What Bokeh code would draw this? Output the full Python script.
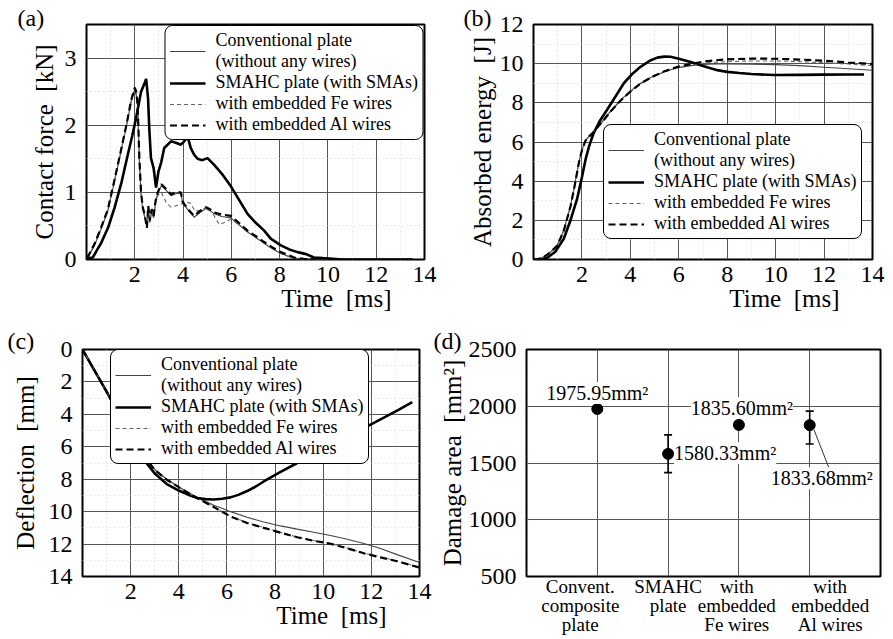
from bokeh.plotting import figure
from bokeh.layouts import column, row
from bokeh.models import (Range1d, FixedTicker, Legend, LegendItem, Label, Whisker,
                          TeeHead, ColumnDataSource, Title)
from bokeh.embed import file_html
from bokeh.resources import INLINE

FONT = "Liberation Serif"

series_names = ["Conventional plate\n(without any wires)", "SMAHC plate (with SMAs)",
                "with embedded Fe wires", "with embedded Al wires"]

# ---------------- (a) contact force [kN] vs time [ms]
a_t_conv = [0, 0.1, 0.33, 0.6, 0.88, 1.15, 1.43, 1.65, 1.85, 1.98, 2.06, 2.12, 2.19, 2.26, 2.33, 2.42,
            2.5, 2.56, 2.62, 2.7, 2.78, 2.86, 2.95, 3.1, 3.3, 3.5, 3.7, 3.91, 3.98, 4.2, 4.46, 4.7, 4.95,
            5.15, 5.29, 5.6, 5.98, 6.3, 6.67, 7.0, 7.36, 7.7, 8.05, 8.35, 8.6, 9.0, 9.5, 10.0]
a_f_conv = [0.03, 0.06, 0.21, 0.45, 0.72, 1.15, 1.61, 1.98, 2.35, 2.52, 2.45, 2.28, 1.46, 0.97, 0.75, 0.62,
            0.5, 0.78, 0.55, 0.72, 0.62, 0.85, 0.98, 1.1, 1.03, 0.95, 0.98, 0.99, 0.85, 0.74, 0.63, 0.7, 0.76,
            0.72, 0.68, 0.64, 0.62, 0.52, 0.41, 0.33, 0.24, 0.16, 0.09, 0.05, 0.02, 0.01, 0.0, 0.0]
a_t_al = [0, 0.1, 0.33, 0.6, 0.88, 1.15, 1.43, 1.65, 1.85, 2.0, 2.06, 2.12, 2.19, 2.26, 2.33, 2.42,
          2.5, 2.56, 2.62, 2.7, 2.78, 2.86, 2.95, 3.1, 3.3, 3.5, 3.7, 3.91, 3.98, 4.2, 4.46, 4.7, 4.95,
          5.15, 5.29, 5.6, 5.98, 6.3, 6.67, 7.0, 7.36, 7.7, 8.05, 8.35, 8.6, 9.0, 9.5]
a_f_al = [0.03, 0.07, 0.23, 0.47, 0.74, 1.17, 1.63, 2.0, 2.37, 2.56, 2.5, 2.3, 1.5, 1.0, 0.78, 0.65,
          0.47, 0.8, 0.58, 0.75, 0.65, 0.87, 1.0, 1.12, 1.05, 0.97, 1.0, 1.0, 0.86, 0.75, 0.65, 0.72, 0.78,
          0.74, 0.7, 0.67, 0.65, 0.55, 0.43, 0.35, 0.26, 0.18, 0.11, 0.07, 0.03, 0.01, 0.0]
a_t_fe = [0, 0.1, 0.33, 0.6, 0.88, 1.15, 1.43, 1.65, 1.85, 2.0, 2.06, 2.12, 2.19, 2.26, 2.33, 2.42,
          2.5, 2.56, 2.62, 2.7, 2.78, 2.86, 2.95, 3.1, 3.3, 3.5, 3.7, 3.91, 4.1, 4.3, 4.5, 4.8, 5.0,
          5.2, 5.5, 5.7, 5.98, 6.3, 6.67, 7.0, 7.36, 7.7, 8.05, 8.35, 8.6, 9.0]
a_f_fe = [0.03, 0.07, 0.22, 0.46, 0.73, 1.16, 1.62, 1.99, 2.36, 2.55, 2.48, 2.28, 1.48, 0.98, 0.76, 0.63,
          0.48, 0.79, 0.56, 0.73, 0.63, 0.86, 0.95, 1.0, 0.85, 0.78, 0.8, 0.82, 0.86, 0.84, 0.72, 0.74, 0.78,
          0.7, 0.52, 0.55, 0.6, 0.52, 0.42, 0.33, 0.24, 0.16, 0.09, 0.05, 0.02, 0.0]
a_t_sma = [0, 0.26, 0.45, 0.6, 0.9, 1.16, 1.45, 1.71, 1.9, 2.05, 2.26, 2.4, 2.47, 2.55, 2.6, 2.67, 2.78,
           2.88, 2.98, 3.09, 3.22, 3.5, 3.7, 3.91, 4.05, 4.19, 4.32, 4.46, 4.6, 4.8, 5.01, 5.29, 5.6, 5.98,
           6.3, 6.67, 7.0, 7.36, 7.63, 8.05, 8.4, 8.74, 9.1, 9.42, 9.8, 10.2, 10.6, 13.5]
a_f_sma = [0.02, 0.03, 0.15, 0.24, 0.48, 0.77, 1.15, 1.56, 1.85, 2.1, 2.5, 2.62, 2.69, 2.4, 1.95, 1.51, 1.36,
           1.07, 1.31, 1.44, 1.66, 1.76, 1.74, 1.71, 1.76, 1.83, 1.66, 1.56, 1.5, 1.48, 1.51, 1.41, 1.28, 1.09,
           0.9, 0.68, 0.55, 0.43, 0.31, 0.21, 0.15, 0.11, 0.08, 0.03, 0.02, 0.01, 0.0, 0.0]

# ---------------- (b) absorbed energy [J]
b_t = [0, 0.2, 0.43, 0.7, 0.98, 1.25, 1.53, 1.7, 1.87, 2.0, 2.15, 2.3, 2.43, 2.6, 2.9, 3.2, 3.6, 4.0,
       4.42, 4.9, 5.38, 5.9, 6.49, 7.0, 7.5, 8.0, 9.0, 10.0, 11.0, 12.0, 13.0, 14.0]
b_e_conv = [0, 0.02, 0.14, 0.38, 0.72, 1.5, 2.75, 3.8, 4.95, 5.6, 6.1, 6.3, 6.45, 6.7, 7.14, 7.6, 8.15, 8.6,
            9.0, 9.33, 9.58, 9.78, 9.9, 9.96, 9.98, 9.98, 9.97, 9.95, 9.9, 9.82, 9.74, 9.66]
b_e_fe = [0, 0.02, 0.13, 0.36, 0.7, 1.45, 2.7, 3.75, 4.9, 5.55, 6.05, 6.28, 6.43, 6.68, 7.1, 7.56, 8.1, 8.55,
          8.96, 9.3, 9.56, 9.77, 9.92, 10.02, 10.07, 10.1, 10.14, 10.14, 10.1, 10.05, 9.98, 9.9]
b_e_al = [0, 0.02, 0.13, 0.37, 0.71, 1.47, 2.72, 3.77, 4.92, 5.57, 6.07, 6.29, 6.44, 6.69, 7.12, 7.58, 8.12, 8.58,
          8.98, 9.33, 9.6, 9.82, 9.98, 10.1, 10.17, 10.22, 10.26, 10.25, 10.21, 10.15, 10.06, 9.98]
b_t_sma = [0, 0.3, 0.57, 0.9, 1.25, 1.5, 1.8, 2.0, 2.15, 2.3, 2.49, 2.75, 3.04, 3.4, 3.73, 4.1, 4.42, 4.8,
           5.11, 5.4, 5.66, 6.0, 6.49, 7.0, 7.59, 8.0, 8.5, 9.0, 9.93, 11.0, 12.0, 13.0, 13.65]
b_e_sma = [0, 0.02, 0.09, 0.4, 1.06, 1.9, 3.09, 4.2, 5.11, 5.8, 6.47, 7.1, 7.65, 8.35, 9.0, 9.5, 9.84, 10.15,
           10.31, 10.36, 10.35, 10.25, 10.09, 9.88, 9.67, 9.58, 9.52, 9.47, 9.42, 9.43, 9.44, 9.45, 9.45]

# ---------------- (c) deflection [mm]
c_t = [0, 0.5, 1.0, 1.5, 2.0, 2.5, 3.0, 3.5, 4.0, 4.5, 4.77, 5.46, 6.15, 6.84, 7.53, 8.23, 8.92, 9.61,
       10.3, 11.0, 11.69, 12.38, 13.07, 14.0]
c_d_conv = [0, 1.3, 2.6, 3.95, 5.25, 6.45, 7.4, 8.0, 8.48, 8.9, 9.12, 9.6, 10.0, 10.35, 10.64, 10.88, 11.08,
            11.27, 11.47, 11.7, 11.96, 12.27, 12.65, 13.14]
c_d_fe = [0, 1.3, 2.6, 3.95, 5.25, 6.45, 7.42, 8.02, 8.48, 8.93, 9.16, 9.71, 10.29, 10.68, 10.98, 11.28, 11.57,
          11.78, 11.96, 12.24, 12.55, 12.8, 13.04, 13.43]
c_d_al = [0, 1.3, 2.6, 3.95, 5.25, 6.45, 7.43, 8.03, 8.49, 8.94, 9.17, 9.72, 10.3, 10.7, 11.0, 11.3, 11.58,
          11.8, 11.98, 12.26, 12.57, 12.82, 13.06, 13.45]
c_t_sma = [0, 0.5, 1.0, 1.5, 2.0, 2.5, 3.0, 3.5, 4.0, 4.5, 4.77, 5.1, 5.46, 5.8, 6.15, 6.5, 6.84, 7.2, 7.53,
           8.23, 8.92, 9.61, 10.3, 11.0, 11.69, 12.38, 13.07, 13.7]
c_d_sma = [0, 1.3, 2.6, 3.95, 5.35, 6.7, 7.65, 8.3, 8.7, 9.02, 9.16, 9.23, 9.25, 9.2, 9.12, 8.95, 8.73, 8.45,
           8.14, 7.55, 7.0, 6.47, 5.93, 5.39, 4.85, 4.31, 3.77, 3.24]

# ---------------- (d) damage area [mm^2]
d_cats = ["Convent.\ncomposite\nplate", "SMAHC\nplate", "with\nembedded\nFe wires", "with\nembedded\nAl wires"]
d_pos = [1, 2, 3, 4]
d_area = [1975.95, 1580.33, 1835.60, 1833.68]
d_lower = [1962, 1415, 1805, 1668]
d_upper = [1990, 1748, 1868, 1957]

time_ticks = [2, 4, 6, 8, 10, 12, 14]
time_minor = [1, 3, 5, 7, 9, 11, 13]

# layout-only: shifts of the category label blocks (data units) in panel (d)
d_label_shift = [-0.24, 0.0, -0.03, 0.29]


def base_fig(w, h, l, r, t, b, xr, yr, tag, tag_offset, tag_standoff):
    p = figure(width=w, height=h, x_range=xr, y_range=yr, output_backend="svg",
               toolbar_location=None, min_border_left=l, min_border_right=r,
               min_border_top=t, min_border_bottom=b)
    p.background_fill_color = "white"
    p.border_fill_color = "white"
    p.outline_line_color = "black"
    p.outline_line_width = 2
    p.outline_line_alpha = 1
    for ax in list(p.xaxis) + list(p.yaxis):
        ax.axis_line_color = None
        ax.major_tick_line_color = None
        ax.minor_tick_line_color = None
        ax.major_label_text_font = FONT
        ax.major_label_text_font_size = "24px"
        ax.major_label_text_color = "black"
        ax.axis_label_text_font = FONT
        ax.axis_label_text_font_size = "25px"
        ax.axis_label_text_font_style = "normal"
        ax.axis_label_text_color = "black"
    p.xaxis.major_label_standoff = 1
    p.yaxis.major_label_standoff = 4
    for g in list(p.xgrid) + list(p.ygrid):
        g.grid_line_color = "#555555"
        g.grid_line_width = 1
    p.title.text = tag
    p.title.align = "left"
    p.title.offset = tag_offset
    p.title.standoff = tag_standoff
    p.title.text_font = FONT
    p.title.text_font_size = "24px"
    p.title.text_font_style = "normal"
    p.title.text_color = "black"
    return p


def time_panel(w, h, l, r, t, b, yr, yticks, yminor, ylabel, ystand, tag, tag_offset, tag_standoff):
    p = base_fig(w, h, l, r, t, b, Range1d(0, 14), yr, tag, tag_offset, tag_standoff)
    p.xaxis.ticker = FixedTicker(ticks=time_ticks, minor_ticks=time_minor)
    p.yaxis.ticker = FixedTicker(ticks=yticks, minor_ticks=yminor)
    p.yaxis.axis_label = ylabel
    p.yaxis.axis_label_standoff = ystand
    p.add_layout(Title(text="Time\u2002[ms]", align="right", offset=33, standoff=-4,
                       text_font=FONT, text_font_size="25px", text_font_style="normal",
                       text_color="black"), "below")
    for g in list(p.xgrid) + list(p.ygrid):
        g.minor_grid_line_color = "#d8d8d8"
        g.minor_grid_line_dash = "1 3"
    return p


def draw_series(p, xs_list, ys_list):
    styles = [dict(line_color="#444444", line_width=1.1),
              dict(line_color="black", line_width=2.6),
              dict(line_color="#666666", line_width=1.1, line_dash="4 3"),
              dict(line_color="black", line_width=2.2, line_dash="7 4")]
    rends = []
    for xs, ys, st in zip(xs_list, ys_list, styles):
        src = ColumnDataSource(dict(x=xs, y=ys))
        rends.append(p.line("x", "y", source=src, **st))
    return rends


def add_legend(p, rends, loc):
    items = [LegendItem(label=lab, renderers=[r]) for lab, r in zip(series_names, rends)]
    kw = dict(items=items, location=loc, label_text_font=FONT,
              label_text_font_size="18px", label_text_color="black", label_text_line_height=0.9,
              glyph_width=36, glyph_height=18, label_height=18, label_standoff=10, padding=4,
              spacing=0, margin=1, border_line_color="black", border_line_width=1.5,
              border_line_alpha=1, background_fill_color="white", background_fill_alpha=1)
    if "border_radius" in Legend.properties():
        kw["border_radius"] = 8
    p.add_layout(Legend(**kw))


# panel (a): frame 338 x 236
pa = time_panel(450, 318, 86, 26, 23, 59, Range1d(0, 3.5), [0, 1, 2, 3], [0.5, 1.5, 2.5],
                "Contact force\u2002[kN]", 4, "(a)", -69, -13)
ra = draw_series(pa, [a_t_conv, a_t_sma, a_t_fe, a_t_al], [a_f_conv, a_f_sma, a_f_fe, a_f_al])
add_legend(pa, ra, "top_right")

# panel (b): frame 339 x 237
pb = time_panel(443, 318, 83, 21, 24, 57, Range1d(0, 12), [0, 2, 4, 6, 8, 10, 12], [1, 3, 5, 7, 9, 11],
                "Absorbed energy\u2002[J]", 1, "(b)", -70, -13)
rb = draw_series(pb, [b_t, b_t_sma, b_t, b_t], [b_e_conv, b_e_sma, b_e_fe, b_e_al])
add_legend(pb, rb, (70, 20))

# panel (c): frame 337 x 227 (borders shared with panel d in the row)
pc = time_panel(432, 321, 82, 13, 31, 63, Range1d(14, 0), [0, 2, 4, 6, 8, 10, 12, 14],
                [1, 3, 5, 7, 9, 11, 13], "Deflection\u2002[mm]", 7, "(c)", -75, -9)
rc = draw_series(pc, [c_t, c_t_sma, c_t, c_t], [c_d_conv, c_d_sma, c_d_fe, c_d_al])
add_legend(pc, rc, (28, 112))

# panel (d): frame 354 x 227
pd_ = base_fig(461, 321, 94, 13, 31, 63, Range1d(0, 5), Range1d(500, 2500), "(d)", -93, -8)
pd_.xaxis.ticker = FixedTicker(ticks=[p_ + s for p_, s in zip(d_pos, d_label_shift)])
pd_.xaxis.major_label_overrides = {p_ + s: c for p_, s, c in zip(d_pos, d_label_shift, d_cats)}
pd_.xgrid.ticker = FixedTicker(ticks=d_pos)
pd_.xaxis.major_label_text_font_size = "19px"
pd_.xaxis.major_label_text_line_height = 0.92
try:
    pd_.xaxis.major_label_standoff = -7
except Exception:
    pd_.xaxis.major_label_standoff = 0
pd_.yaxis.ticker = FixedTicker(ticks=[500, 1000, 1500, 2000, 2500])
pd_.yaxis.axis_label = "Damage area\u2002[mm\u00b2]"
pd_.yaxis.axis_label_standoff = 0
dsrc = ColumnDataSource(dict(x=d_pos, y=d_area, lo=d_lower, hi=d_upper))
pd_.add_layout(Whisker(source=dsrc, base="x", upper="hi", lower="lo", dimension="height",
                       line_width=1.6, line_color="black",
                       upper_head=TeeHead(size=8, line_width=1.6, line_color="black"),
                       lower_head=TeeHead(size=8, line_width=1.6, line_color="black")))
pd_.scatter("x", "y", source=dsrc, size=11, color="black")
pd_.segment(x0=[d_pos[3] + 0.06], y0=[d_area[3] - 40], x1=[d_pos[3] + 0.28], y1=[d_area[3] - 390],
            line_color="#333333", line_width=1)
lab_cfg = [dict(x_offset=0, y_offset=16, text_align="center"),
           dict(x_offset=6, y_offset=1, text_align="left"),
           dict(x_offset=3, y_offset=17, text_align="center"),
           dict(x_offset=-39, y_offset=-53, text_align="left")]
for xp, v, cfg in zip(d_pos, d_area, lab_cfg):
    pd_.add_layout(Label(x=xp, y=v, text=f"{v:.2f}mm\u00b2", text_baseline="middle",
                         text_font=FONT, text_font_size="20px", text_color="black",
                         background_fill_color="white", background_fill_alpha=1, **cfg))

layout = column(row(pa, pb), row(pc, pd_))
open("out.html", "w").write(file_html(layout, INLINE))
